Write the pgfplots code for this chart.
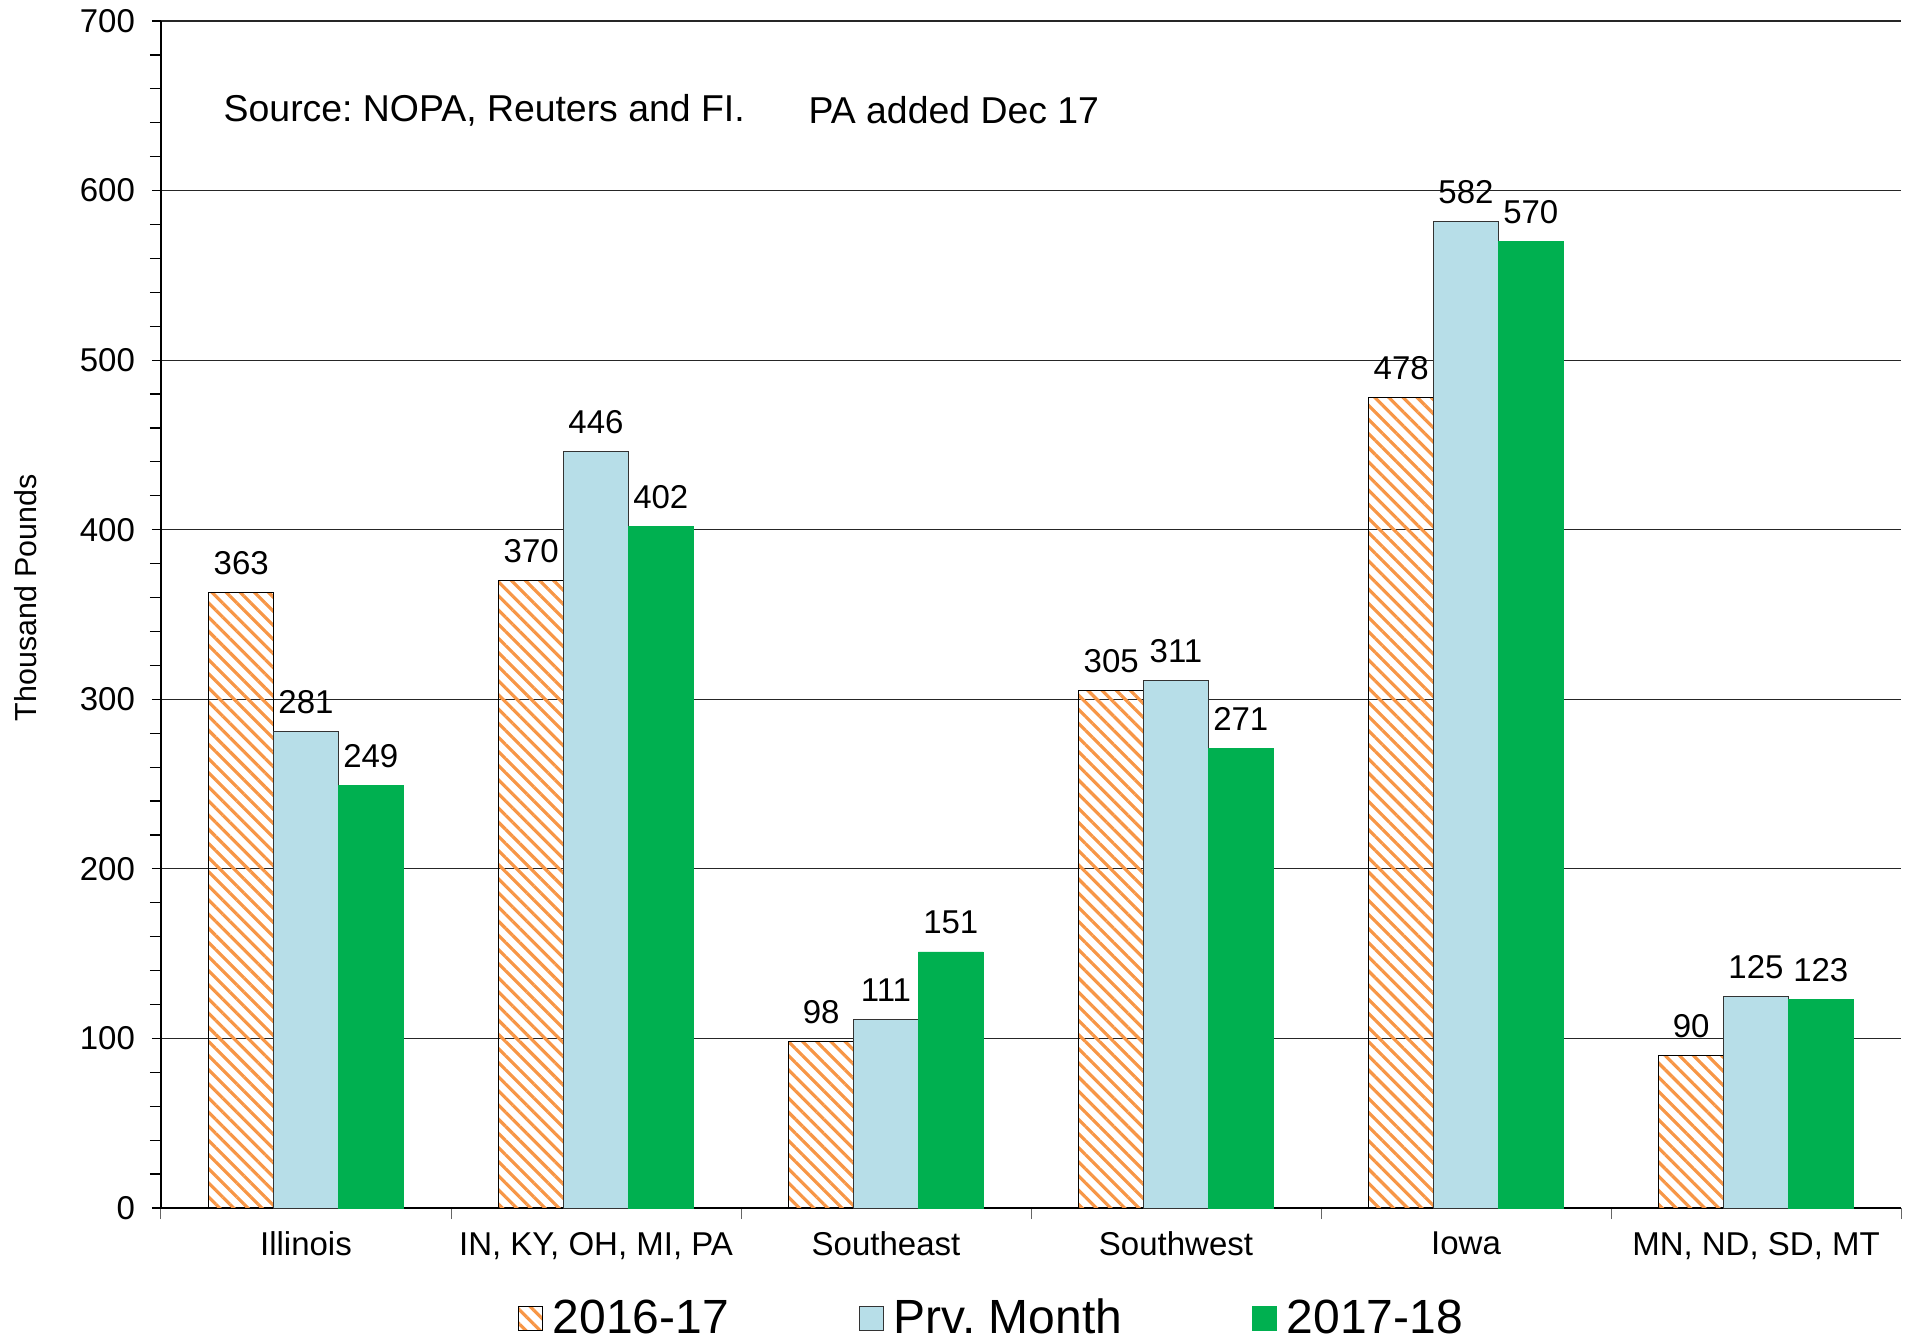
\documentclass[border=0pt]{standalone}
\usepackage{fontspec}
\setmainfont{Liberation Sans}
\usepackage{pgfplots}
\pgfplotsset{compat=1.18}
\usetikzlibrary{patterns.meta}
\definecolor{hatchorange}{RGB}{247,150,70}
\definecolor{prvblue}{RGB}{183,222,232}
\definecolor{newgreen}{RGB}{0,176,80}
\begin{document}
\frenchspacing
\begin{tikzpicture}
\begin{axis}[
  name=ax,
  scale only axis,
  width=870pt, height=593.5pt,
  ybar=0pt, bar width=32.4pt,
  xmin=-0.5, xmax=5.5,
  ymin=0, ymax=700,
  axis lines*=left,
  axis line style={line width=0.7pt},
  xtick={0,1,2,3,4,5},
  xticklabels={Illinois, {IN, KY, OH, MI, PA}, Southeast, Southwest, Iowa, {MN, ND, SD, MT}},
  major x tick style={draw=none},
  minor xtick={-0.5,0.5,1.5,2.5,3.5,4.5,5.5},
  minor x tick style={line width=0.5pt, black!60},
  xtick align=outside,
  minor tick length=5.5pt,
  ytick={0,100,...,700},
  minor ytick={20,40,60,80,120,140,160,180,220,240,260,280,320,340,360,380,420,440,460,480,520,540,560,580,620,640,660,680},
  ytick align=outside,
  major tick length=4.5pt,
  y tick style={line width=0.6pt, black},
  ymajorgrids,
  major grid style={line width=0.6pt, black!85},
  tick label style={font=\fontsize{16.5}{19}\selectfont},
  /pgf/number format/assume math mode=true,
  xticklabel style={yshift=-4pt},
  yticklabel style={xshift=-5pt},
  ylabel={Thousand Pounds},
  ylabel style={font=\fontsize{15.2}{18}\selectfont, at={(axis description cs:-0.078,0.514)}, anchor=center},
  nodes near coords,
  every node near coord/.append style={font=\fontsize{16.5}{19}\selectfont, anchor=base, yshift=9pt, black},
  legend image code/.code={\draw[#1] (0pt,-6pt) rectangle (12pt,6pt);},
  legend columns=3,
  legend style={draw=none, at={(axis description cs:0.4795,-0.0927)}, anchor=center,
    font=\fontsize{24}{28}\selectfont,
    /tikz/every even column/.append style={column sep=60pt},
    nodes={inner xsep=5pt}},
]
\addplot[draw=black, line width=0.5pt, pattern={Lines[angle=-45, distance=5pt, line width=1.6pt]}, pattern color=hatchorange]
  coordinates {(0,363) (1,370) (2,98) (3,305) (4,478) (5,90)};
\addplot[draw=black!80, line width=0.5pt, fill=prvblue]
  coordinates {(0,281) (1,446) (2,111) (3,311) (4,582) (5,125)};
\addplot[draw=newgreen, line width=0.3pt, fill=newgreen]
  coordinates {(0,249) (1,402) (2,151) (3,271) (4,570) (5,123)};
\legend{2016-17, Prv. Month, 2017-18}
\node[anchor=west, inner sep=0pt, font=\fontsize{18.7}{22}\selectfont] at (axis cs:-0.285,647.5) {Source: NOPA, Reuters and FI.};
\node[anchor=west, inner sep=0pt, font=\fontsize{18.7}{22}\selectfont] at (axis cs:1.732,647.5) {PA added Dec 17};
\end{axis}
\pgfresetboundingbox
\path[use as bounding box] ([xshift=-80.5pt,yshift=-67pt]ax.south west) rectangle ([xshift=6pt,yshift=10.5pt]ax.north east);
\end{tikzpicture}
\end{document}
